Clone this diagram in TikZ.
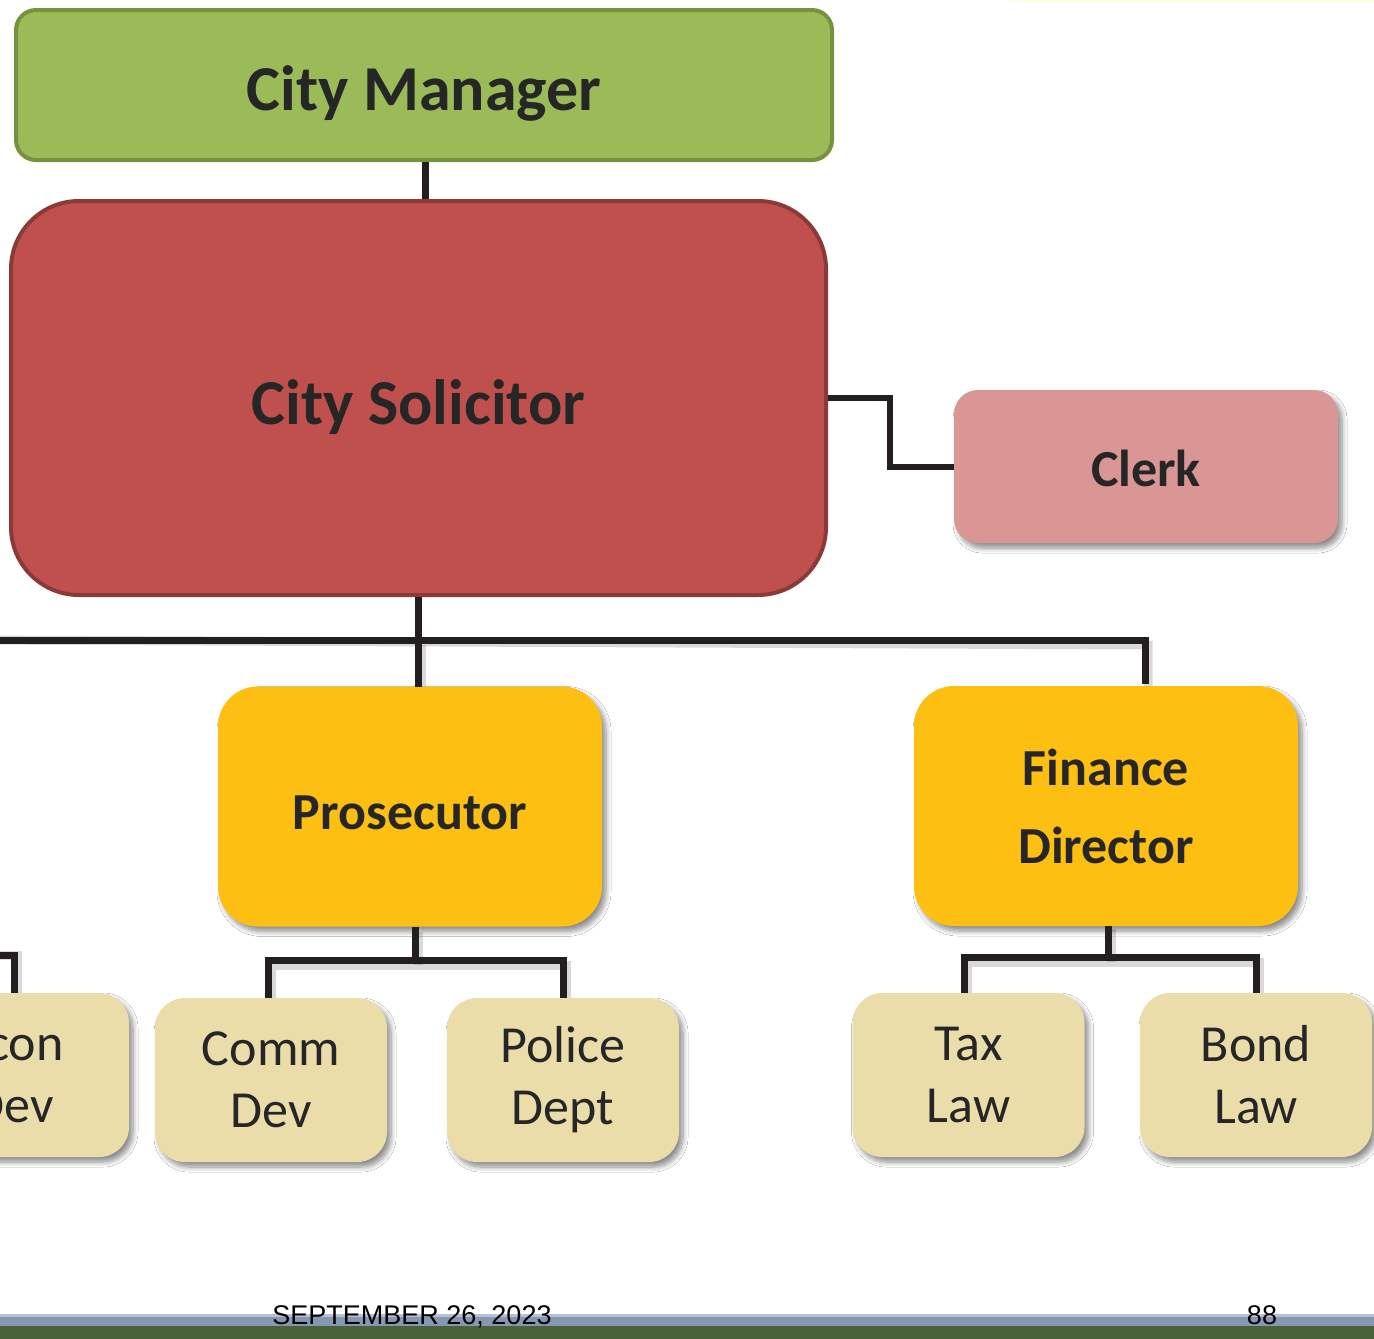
\documentclass[tikz,border=0pt]{standalone}
\usepackage{fontspec}
\setmainfont{Carlito}
\newfontfamily\footfont{Liberation Sans}
\usetikzlibrary{shadows,shadows.blur}
\definecolor{cmfill}{HTML}{9BBB59}
\definecolor{cmdraw}{HTML}{76923C}
\definecolor{csfill}{HTML}{C0504D}
\definecolor{csdraw}{HTML}{8C3A38}
\definecolor{clerkfill}{HTML}{D99694}
\definecolor{orfill}{HTML}{FCBF12}
\definecolor{tanfill}{HTML}{EADDAA}
\definecolor{conn}{HTML}{231F20}
\definecolor{bandblue}{HTML}{8597B3}
\definecolor{bandgreen}{HTML}{4A623A}
\definecolor{txt}{HTML}{262626}
\tikzset{
  shad/.style={blur shadow={shadow xshift=4pt,shadow yshift=-5pt,shadow blur radius=5pt,shadow blur steps=8,shadow opacity=45}},
  orgbox/.style={rectangle, align=center, inner sep=0pt, text=txt},
  topbox/.style={orgbox, fill=cmfill, draw=cmdraw, line width=4pt, rounded corners=20pt,
     minimum width=816pt, minimum height=150pt, text height=51pt, text depth=0pt,
     font=\fontsize{64}{70}\selectfont\bfseries},
  solbox/.style={orgbox, fill=csfill, draw=csdraw, line width=4pt, rounded corners=68pt,
     minimum width=815pt, minimum height=394pt, text height=53pt, text depth=0pt,
     font=\fontsize{64}{70}\selectfont\bfseries},
  clerkbox/.style={orgbox, fill=clerkfill, rounded corners=24pt, shad,
     minimum width=384pt, minimum height=153pt, text height=40.5pt, text depth=0pt,
     font=\fontsize{52}{60}\selectfont\bfseries},
  midbox/.style={orgbox, fill=orfill, rounded corners=40pt, shad,
     minimum width=384pt, minimum height=240pt, font=\fontsize{52}{78}\selectfont\bfseries},
  leafbox/.style={orgbox, fill=tanfill, rounded corners=30pt, shad,
     minimum width=232pt, minimum height=164pt, font=\fontsize{52}{62}\selectfont},
  link/.style={draw=conn, line width=7pt},
  linkshadow/.style={draw=black, opacity=0.15, line width=9pt, xshift=3pt, yshift=-5pt},
}
\begin{document}
\begin{tikzpicture}[x=1pt,y=-1pt]
\useasboundingbox (0,0) rectangle (1374,1339);
\clip (0,0) rectangle (1374,1339);
\fill[white] (0,0) rectangle (1374,1339);
% faint top line
\draw[draw=yellow!12, line width=2pt] (1010,0.5) -- (1374,0.5);

\coordinate (busL) at (-30,640);
\coordinate (econL) at (-30,955);
\coordinate (cmb) at (425,162);
\coordinate (csb) at (418,597);

% connector shadows
\draw[linkshadow] (busL) -- (1145,640) -- (1145,684);
\draw[linkshadow] (418,640) -- (418,686.5);
\draw[linkshadow] (268,998) |- (563,960) -- (563,998);
\draw[linkshadow] (415,926.5) -- (415,960);
\draw[linkshadow] (964,993) |- (1256,957) -- (1256,993);
\draw[linkshadow] (1108,924) -- (1108,957);
\draw[linkshadow] (econL) -| (14,993);

% nodes
\node[topbox] (cm) at (424,85) {City Manager};
\node[solbox] (cs) at (418.5,398) {City Solicitor};
\node[clerkbox] (clerk) at (1146,466.5) {Clerk};
\node[midbox, text height=45.5pt, text depth=0pt] (pros) at (410,806.5) {Prosecutor};
\node[midbox] (fin) at (1106,806) {Finance\\Director};
\node[leafbox] (econ) at (13,1075) {Econ\\Dev};
\node[leafbox] (comm) at (271,1080) {Comm\\Dev};
\node[leafbox] (police) at (563,1080) {Police\\Dept};
\node[leafbox] (tax) at (968.5,1075) {Tax\\Law};
\node[leafbox] (bond) at (1256,1075) {Bond\\Law};

% links
\draw[link] (cm.south -| cmb) -- (cs.north -| cmb);
\draw[link, line width=6pt] (cs.east |- 0,398) -- (890,398) |- (clerk.west);
\draw[link] (busL) -- (1145,640) -- (1145,684);
\draw[link] (csb) -- (418,640) -- (418,686.5);
\draw[link] (415,926.5) -- (415,960);
\draw[link] (268,998) |- (563,960) -- (563,998);
\draw[link] (econL) -| (14,993);
\draw[link] (1108,926) -- (1108,957);
\draw[link] (964,993) |- (1256,957) -- (1256,993);

% footer
\fill[bandblue!60] (0,1314) rectangle (1374,1317);
\fill[bandblue] (0,1317) rectangle (1374,1326);
\fill[bandgreen] (0,1326) rectangle (1374,1339);
\node[anchor=base, inner sep=0pt, font=\footfont\fontsize{27}{30}\selectfont] (date) at (412,1324) {SEPTEMBER 26, 2023};
\node[anchor=base, inner sep=0pt, font=\footfont\fontsize{27}{30}\selectfont] (page) at (1262,1324) {88};
\end{tikzpicture}
\end{document}
